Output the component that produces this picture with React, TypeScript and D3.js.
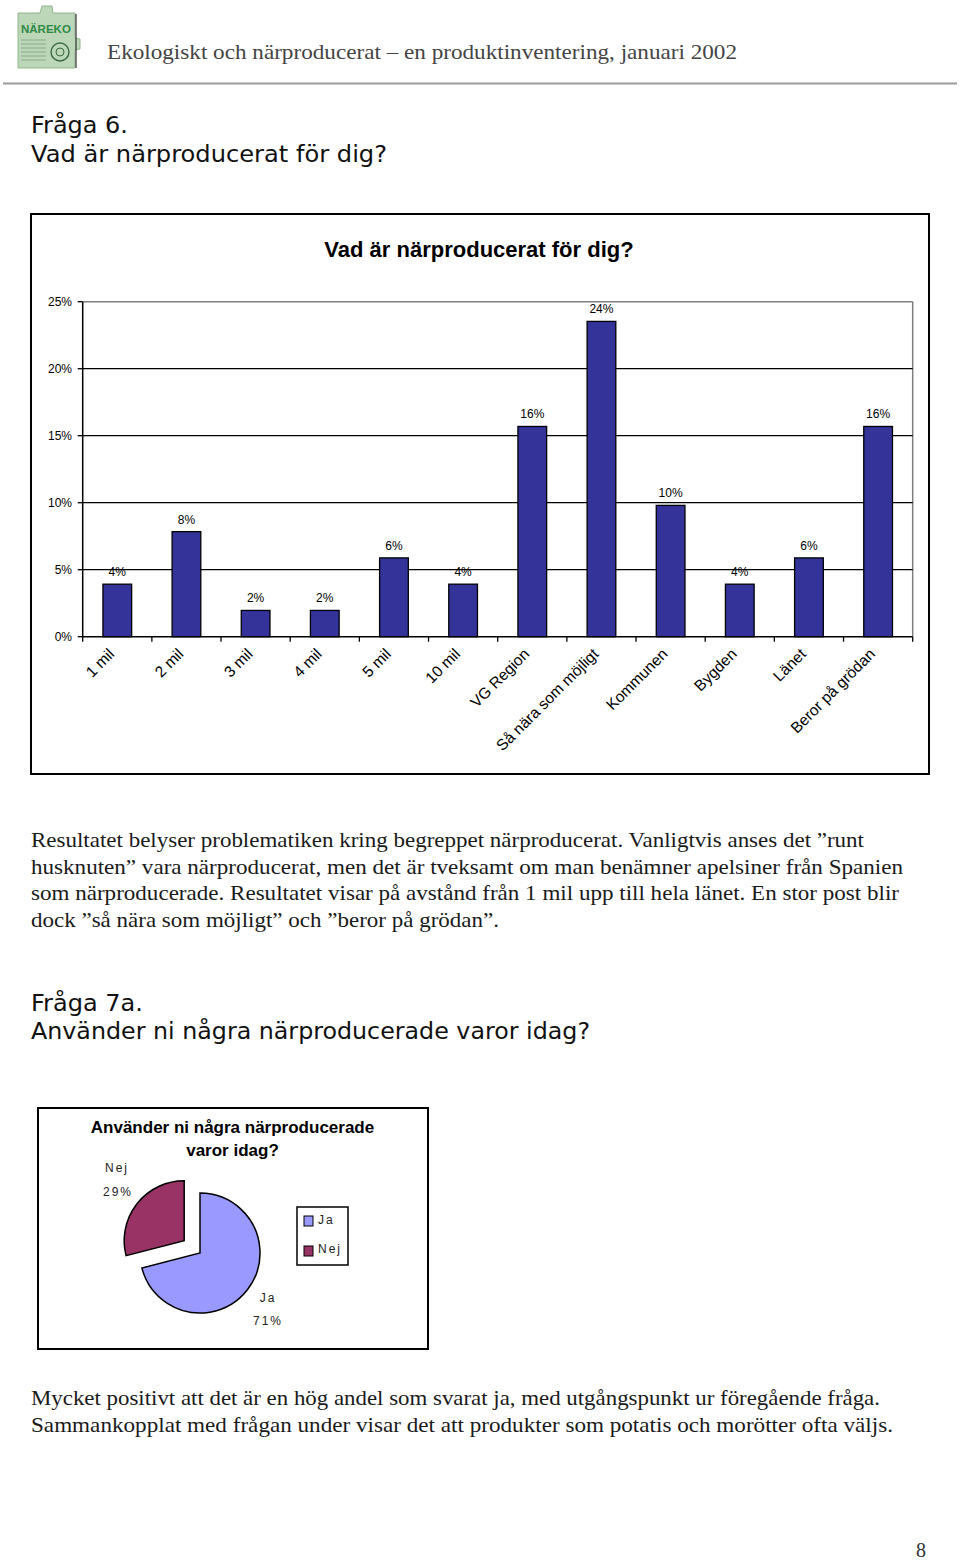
import React from "react";
import * as d3 from "d3";

const categories = ["1 mil", "2 mil", "3 mil", "4 mil", "5 mil", "10 mil", "VG Region", "Så nära som möjligt", "Kommunen", "Bygden", "Länet", "Beror på grödan"];
const barValues = [3.92, 7.84, 1.96, 1.96, 5.88, 3.92, 15.69, 23.53, 9.8, 3.92, 5.88, 15.69];
const yTicks = [0, 5, 10, 15, 20, 25];

const pieLabels = ["Ja", "Nej"];
const pieValues = [71, 29];
const pieColors = ["#9999FF", "#993366"];

const para1 = [
  "Resultatet belyser problematiken kring begreppet närproducerat. Vanligtvis anses det ”runt",
  "husknuten” vara närproducerat, men det är tveksamt om man benämner apelsiner från Spanien",
  "som närproducerade. Resultatet visar på avstånd från 1 mil upp till hela länet. En stor post blir",
  "dock ”så nära som möjligt” och ”beror på grödan”.",
];
const para1Widths = [833, 872, 868, 468];
const para2 = [
  "Mycket positivt att det är en hög andel som svarat ja, med utgångspunkt ur föregående fråga.",
  "Sammankopplat med frågan under visar det att produkter som potatis och morötter ofta väljs.",
];
const para2Widths = [849, 862];

const SANS = "'Liberation Sans', Arial, sans-serif";
const SERIF = "'Liberation Serif', 'Times New Roman', serif";
const VERD = "'DejaVu Sans', Verdana, sans-serif";

export default function App() {
  const x0 = 82.7, x1 = 912.7, yTop = 301.7, yBot = 636.7;
  const x = d3.scaleBand<string>().domain(categories).range([x0, x1]).paddingInner(0.585).paddingOuter(0.2925);
  const step = (x1 - x0) / categories.length;
  const y = d3.scaleLinear().domain([0, 25]).range([yBot, yTop]);

  const pie = d3.pie<number>().sort(null).value((d) => d).startAngle(0).endAngle(2 * Math.PI);
  const arcs = pie(pieValues);
  const arcGen = d3.arc<d3.PieArcDatum<number>>().innerRadius(0).outerRadius(60);
  const pcx = 200, pcy = 1253;
  const explode = [0, 20];

  return (
    <svg width={960} height={1560} style={{ position: "absolute", left: 0, top: 0, display: "block", background: "#fff" }}>
      <rect x={0} y={0} width={960} height={1560} fill="#fff" />
      {/* logo */}
      <g>
        <path d="M18,13 L40,13 L42,6 L52,6 L53,13 L75,13 L75,38 L80,39 L80,49 L75,50 L75,68 L18,68 Z" fill="#bcd7b8" stroke="#8fb58a" strokeWidth={1} />
        <line x1={76} y1={14} x2={76} y2={68} stroke="#333" strokeWidth={1.2} />
        <text x={21} y={33} fontFamily={SANS} fontWeight="bold" fontSize={11.5} fill="#2f8a45">NÄREKO</text>
        {[40, 44, 48, 52, 56, 60].map((yy, i) => (
          <line key={i} x1={21} y1={yy} x2={46} y2={yy} stroke="#8aa98a" strokeWidth={1} />
        ))}
        <circle cx={60} cy={52} r={9} fill="none" stroke="#3a6a40" strokeWidth={1.4} />
        <circle cx={60} cy={52} r={4} fill="none" stroke="#3a6a40" strokeWidth={1} />
      </g>
      <text x={107} y={59} fontFamily={SERIF} fontSize={21} fill="#444" textLength={630} lengthAdjust="spacingAndGlyphs">Ekologiskt och närproducerat – en produktinventering, januari 2002</text>
      <line x1={3} y1={83.5} x2={957} y2={83.5} stroke="#9a9a9a" strokeWidth={2} />

      {/* heading 1 */}
      <text x={31} y={133} fontFamily={VERD} fontSize={23} fill="#111" textLength={97} lengthAdjust="spacingAndGlyphs">Fråga 6.</text>
      <text x={31} y={162} fontFamily={VERD} fontSize={23} fill="#111" textLength={356} lengthAdjust="spacingAndGlyphs">Vad är närproducerat för dig?</text>

      {/* bar chart frame */}
      <rect x={31} y={214} width={898} height={560} fill="#fff" stroke="#000" strokeWidth={2} />
      <text x={479} y={257} textAnchor="middle" fontFamily={SANS} fontWeight="bold" fontSize={22} fill="#000">Vad är närproducerat för dig?</text>

      {/* plot area border */}
      <line x1={x0} y1={yTop} x2={x1} y2={yTop} stroke="#808080" strokeWidth={1.5} />
      <line x1={x1} y1={yTop} x2={x1} y2={yBot} stroke="#808080" strokeWidth={1.5} />
      {/* gridlines */}
      {yTicks.filter((t) => t > 0 && t < 25).map((t) => (
        <line key={t} x1={x0} y1={y(t)} x2={x1} y2={y(t)} stroke="#000" strokeWidth={1.3} />
      ))}
      {/* y ticks & labels */}
      {yTicks.map((t) => (
        <g key={t}>
          <line x1={x0 - 5} y1={y(t)} x2={x0} y2={y(t)} stroke="#000" strokeWidth={1.3} />
          <text x={72} y={y(t) + 4.5} textAnchor="end" fontFamily={SANS} fontSize={12} fill="#000">{t}%</text>
        </g>
      ))}
      {/* bars */}
      {categories.map((c, i) => (
        <g key={c}>
          <rect x={x(c)!} y={y(barValues[i])} width={x.bandwidth()} height={yBot - y(barValues[i])} fill="#333399" stroke="#000" strokeWidth={1.3} />
          <text x={x(c)! + x.bandwidth() / 2} y={y(barValues[i]) - 8} textAnchor="middle" fontFamily={SANS} fontSize={12} fill="#000">{Math.round(barValues[i])}%</text>
        </g>
      ))}
      {/* axes */}
      <line x1={x0} y1={yTop} x2={x0} y2={yBot} stroke="#000" strokeWidth={1.5} />
      <line x1={x0} y1={yBot} x2={x1} y2={yBot} stroke="#000" strokeWidth={1.5} />
      {d3.range(categories.length + 1).map((i) => (
        <line key={i} x1={x0 + i * step} y1={yBot} x2={x0 + i * step} y2={yBot + 5} stroke="#000" strokeWidth={1.3} />
      ))}
      {categories.map((c) => {
        const cx = x(c)! + x.bandwidth() / 2 - 2;
        const cy = 655;
        return (
          <text key={c} transform={`translate(${cx},${cy}) rotate(-45)`} textAnchor="end" fontFamily={SANS} fontSize={15.5} fill="#000">{c}</text>
        );
      })}

      {/* paragraph 1 */}
      {para1.map((l, i) => (
        <text key={i} x={31} y={847 + i * 26.6} fontFamily={SERIF} fontSize={21} fill="#1a1a1a" textLength={para1Widths[i]} lengthAdjust="spacingAndGlyphs">{l}</text>
      ))}

      {/* heading 2 */}
      <text x={31} y={1011} fontFamily={VERD} fontSize={23} fill="#111" textLength={112} lengthAdjust="spacingAndGlyphs">Fråga 7a.</text>
      <text x={31} y={1039} fontFamily={VERD} fontSize={23} fill="#111" textLength={559} lengthAdjust="spacingAndGlyphs">Använder ni några närproducerade varor idag?</text>

      {/* pie frame */}
      <rect x={38} y={1108} width={390} height={241} fill="#fff" stroke="#000" strokeWidth={2} />
      <text x={232.5} y={1133} textAnchor="middle" fontFamily={SANS} fontWeight="bold" fontSize={17} fill="#000">Använder ni några närproducerade</text>
      <text x={232.5} y={1156} textAnchor="middle" fontFamily={SANS} fontWeight="bold" fontSize={17} fill="#000">varor idag?</text>
      {arcs.map((a, i) => {
        const mid = (a.startAngle + a.endAngle) / 2;
        const dx = Math.sin(mid) * explode[i];
        const dy = -Math.cos(mid) * explode[i];
        return (
          <path key={i} d={arcGen(a)!} transform={`translate(${pcx + dx},${pcy + dy})`} fill={pieColors[i]} stroke="#000" strokeWidth={1.5} />
        );
      })}
      <text x={117} y={1172} textAnchor="middle" fontFamily={SANS} fontSize={12} letterSpacing={2} fill="#222">{pieLabels[1]}</text>
      <text x={118} y={1196} textAnchor="middle" fontFamily={SANS} fontSize={12} letterSpacing={2} fill="#222">{pieValues[1]}%</text>
      <text x={268} y={1302} textAnchor="middle" fontFamily={SANS} fontSize={12} letterSpacing={2} fill="#222">{pieLabels[0]}</text>
      <text x={268} y={1325} textAnchor="middle" fontFamily={SANS} fontSize={12} letterSpacing={2} fill="#222">{pieValues[0]}%</text>
      {/* legend */}
      <rect x={297} y={1207} width={51} height={58} fill="#fff" stroke="#000" strokeWidth={1.5} />
      {pieLabels.map((l, i) => (
        <g key={l}>
          <rect x={304} y={1216 + i * 30} width={9} height={10} fill={pieColors[i]} stroke="#000" strokeWidth={1} />
          <text x={318} y={1224 + i * 29} fontFamily={SANS} fontSize={12} letterSpacing={2} fill="#222">{l}</text>
        </g>
      ))}

      {/* paragraph 2 */}
      {para2.map((l, i) => (
        <text key={i} x={31} y={1405 + i * 26.6} fontFamily={SERIF} fontSize={21} fill="#1a1a1a" textLength={para2Widths[i]} lengthAdjust="spacingAndGlyphs">{l}</text>
      ))}

      <text x={921} y={1557} textAnchor="middle" fontFamily={SERIF} fontSize={20} fill="#333">8</text>
    </svg>
  );
}
